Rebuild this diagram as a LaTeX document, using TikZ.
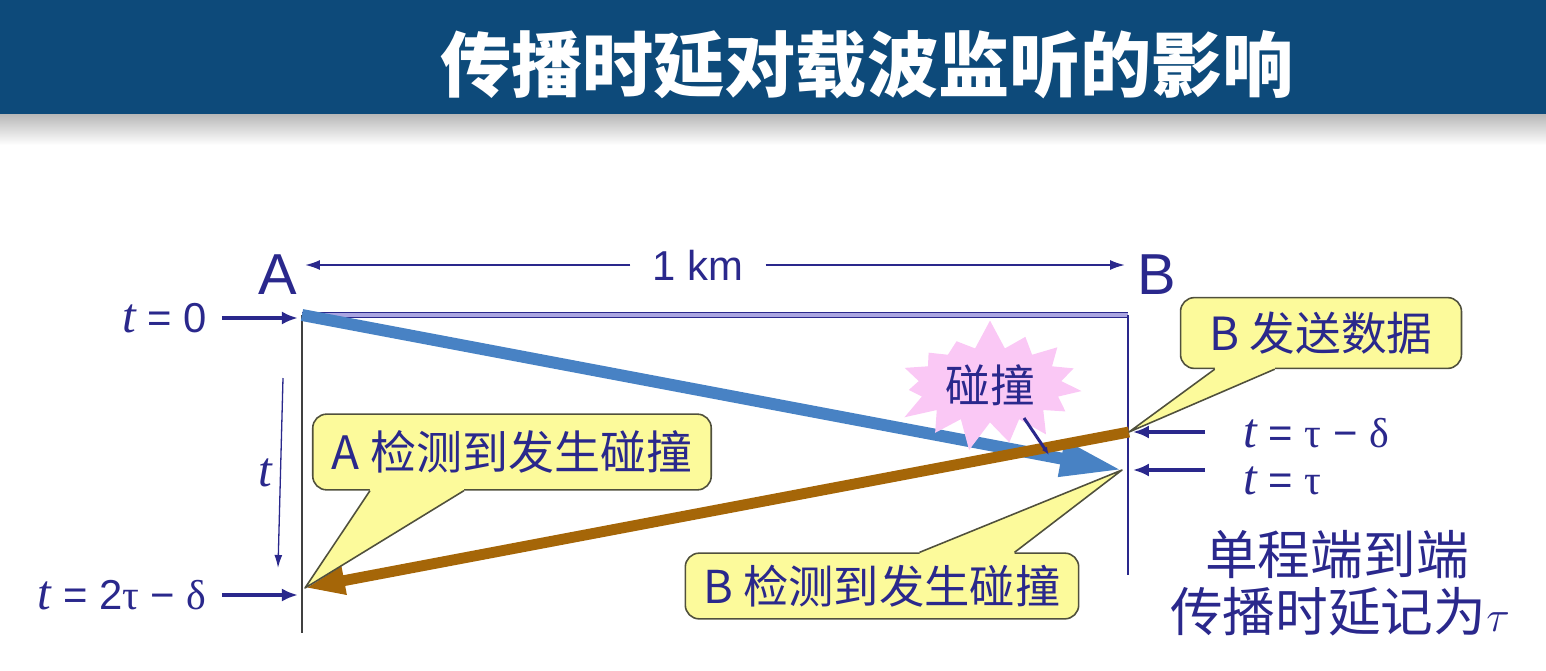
\documentclass[tikz,border=0pt]{standalone}
\usepackage{fontspec}
\setmainfont{Liberation Sans}
\newfontfamily\cjk{Noto Sans CJK SC}
\newfontfamily\tms{Liberation Serif}
\usetikzlibrary{arrows.meta,calc,shapes.symbols}

% one drawing unit is 0.02cm (about 0.567pt); all lengths below are given in pt
\definecolor{ink}{RGB}{42,40,140}
\definecolor{banner}{RGB}{13,74,122}
\definecolor{steel}{RGB}{72,130,196}
\definecolor{brownc}{RGB}{165,102,8}
\definecolor{callfill}{RGB}{252,250,155}
\definecolor{calledge}{RGB}{80,80,60}
\definecolor{starpink}{RGB}{250,200,245}
\definecolor{lav}{RGB}{170,165,225}

% italic time variable and upright Greek letters
\newcommand\tv{{\tms\itshape\fontsize{28}{30}\selectfont t}}
\newcommand\gk[1]{{\tms #1}}

\begin{document}
\begin{tikzpicture}[x=0.02cm,y=-0.02cm,
  lbl/.style={text=ink, inner sep=0pt, font=\fontsize{23.8}{28}\selectfont},
  tarrow/.style={draw=ink, line width=2pt, -{Latex[length=9.1pt,width=7.4pt]}},
  kmarrow/.style={draw=ink, line width=1.13pt, -{Latex[length=8.5pt,width=5.7pt]}},
  callbox/.style={draw=calledge, line width=0.9pt, fill=callfill,
    rounded corners=7.9pt, inner sep=0pt, text=ink},
  calledge/.style={draw=calledge, line width=0.9pt, line join=round},
]
\useasboundingbox (0,0) rectangle (1546,670);

% header band
\fill[banner] (0,0) rectangle (1546,114);
\shade[top color=black!28, bottom color=white] (0,114) rectangle (1546,145);
\node[text=white, font=\cjk\bfseries\fontsize{40.5}{46}\selectfont] (title) at (867,65) {传播时延对载波监听的影响};

% station labels and distance
\node[text=ink, font=\fontsize{32.9}{36}\selectfont] (Alab) at (278,275) {A};
\node[text=ink, font=\fontsize{32.9}{36}\selectfont] (Blab) at (1157,275) {B};
\node[lbl, inner xsep=12.5pt] (km) at (698,265) {1 km};
\coordinate (kmL) at (305,265);
\coordinate (kmR) at (1125,265);
\draw[kmarrow] (km.west) -- (kmL);
\draw[kmarrow] (km.east) -- (kmR);

% time axes of the two stations
\coordinate (A0) at (302,315);
\coordinate (B0) at (1128,315);
\coordinate (Abot) at (302,633);
\coordinate (Bbot) at (1128,575);
\draw[ink, double=lav, double distance=2.2pt, line width=0.74pt] (A0) -- (B0);
\draw[black!75, line width=1.13pt] (A0) -- (Abot);
\draw[ink, line width=1.13pt] (B0) -- (Bbot);

% event points
\coordinate (Btau) at (1122,470);
\coordinate (Bsend) at (1129,432);
\coordinate (Adet) at (305,588);

% time labels
\node[lbl, anchor=east] (t0) at (207,318) {\tv\ = 0};
\node[lbl, anchor=east] (t2) at (207,595) {\tv\ = 2\gk{τ} − \gk{δ}};
\node[lbl, anchor=west] (ttd) at (1243,433) {\tv\ = \gk{τ} − \gk{δ}};
\node[lbl, anchor=west] (tt) at (1243,481) {\tv\ = \gk{τ}};
\draw[tarrow, shorten <=8.5pt, shorten >=2.3pt] (t0.east) -- (t0.east -| A0);
\draw[tarrow, shorten <=8.5pt, shorten >=2.3pt] (t2.east) -- (t2.east -| A0);
\draw[tarrow, shorten <=21.5pt, shorten >=2.8pt] (ttd.west |- Bsend) -- (Bsend -| B0);
\draw[tarrow, shorten <=21.5pt, shorten >=2.8pt] (tt.west |- Btau) -- (Btau -| B0);

% elapsed time arrow
\coordinate (ttop) at (283,378);
\coordinate (tbot) at (278,568);
\draw[ink, line width=0.74pt, -{Latex[length=7.4pt,width=4.5pt]}] (ttop) -- (tbot);
\node[lbl] (tlab) at (265,473) {\tv};

% frame sent by A
\draw[steel, line width=6.8pt, -{Triangle[length=35.2pt,width=19.3pt]}] (A0) -- (Btau);

% collision burst
\node[starburst, fill=starpink, draw=none, random starburst=7, starburst points=15,
  starburst point height=17pt, minimum width=98pt, minimum height=72pt,
  text=ink, font=\cjk\fontsize{25.5}{28}\selectfont] (coll) at (990,385) {碰撞};

% frame sent by B
\draw[brownc, line width=6.2pt, -{Triangle[length=22.7pt,width=14.7pt]}] (Bsend) -- (Adet);

% collision marker
\coordinate (hitfrom) at (1024,418);
\coordinate (hitat) at (1049,455);
\draw[ink, line width=1.7pt, -{Latex[length=4.5pt,width=3.4pt]}] (hitfrom) -- (hitat);

% callout: A detects the collision
\node[callbox, minimum width=226.8pt, minimum height=43.1pt,
  font=\cjk\fontsize{26.2}{30}\selectfont] (cA) at (512,452) {A 检测到发生碰撞};
\fill[callfill] ($(cA.south west)+(58,-3)$) -- ($(cA.south west)+(58,0)$) -- (Adet)
  -- ($(cA.south west)+(152,0)$) -- ($(cA.south west)+(152,-3)$) -- cycle;
\draw[calledge] ($(cA.south west)+(58,0)$) -- (Adet) -- ($(cA.south west)+(152,0)$);

% callout: B detects the collision
\node[callbox, minimum width=223.9pt, minimum height=37.4pt,
  font=\cjk\fontsize{25.8}{30}\selectfont] (cB) at (882,586) {B 检测到发生碰撞};
\fill[callfill] ($(cB.north west)+(235,3)$) -- ($(cB.north west)+(235,0)$) -- (Btau)
  -- ($(cB.north west)+(330,0)$) -- ($(cB.north west)+(330,3)$) -- cycle;
\draw[calledge] ($(cB.north west)+(235,0)$) -- (Btau) -- ($(cB.north west)+(330,0)$);

% callout: B starts sending
\node[callbox, minimum width=159.9pt, minimum height=40.3pt,
  font=\cjk\fontsize{26}{30}\selectfont] (cS) at (1321,333) {B 发送数据};
\fill[callfill] ($(cS.south west)+(35,-3)$) -- ($(cS.south west)+(35,0)$) -- (Bsend)
  -- ($(cS.south west)+(95,0)$) -- ($(cS.south west)+(95,-3)$) -- cycle;
\draw[calledge] ($(cS.south west)+(35,0)$) -- (Bsend) -- ($(cS.south west)+(95,0)$);

% definition of tau
\node[text=ink, font=\cjk\fontsize{30}{34}\selectfont] (d1) at (1337,555) {单程端到端};
\node[text=ink, font=\cjk\fontsize{30}{34}\selectfont] (d2) at (1340,612) {传播时延记为{\fontsize{38}{40}\selectfont$\tau$}};
\end{tikzpicture}
\end{document}
